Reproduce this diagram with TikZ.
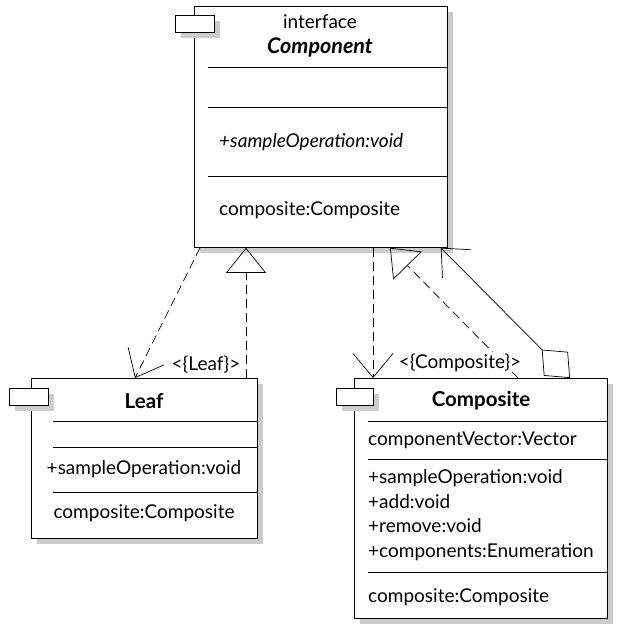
\documentclass[tikz,border=0pt]{standalone}
\usepackage{fontspec}
\setmainfont{Lato}
\usetikzlibrary{arrows.meta}
\usetikzlibrary{shadows}
\usetikzlibrary{calc}
\usetikzlibrary{positioning}

\begin{document}
\begin{tikzpicture}[x=1pt,y=-1pt,
    classbox/.style={draw, line width=0.8pt, fill=white, anchor=north west, inner sep=0pt,
      drop shadow={shadow xshift=6pt, shadow yshift=-6pt, fill=black!20, opacity=1}},
    tabbox/.style={classbox, minimum width=39pt, minimum height=17pt},
    sep/.style={line width=0.8pt},
    lbl/.style={inner sep=0pt, anchor=base, font=\fontsize{19}{22}\selectfont},
    mem/.style={lbl, anchor=base west},
    cname/.style={lbl, font=\fontsize{20.5}{24}\selectfont\bfseries},
    dep/.style={dash pattern=on 9pt off 5pt, line width=0.7pt, -{Straight Barb[length=24pt,width=40pt]}},
    real/.style={dash pattern=on 9pt off 5pt, line width=0.7pt, -{Triangle[open,length=25pt,width=40pt]}},
    agg/.style={line width=0.7pt, {Diamond[open,length=40pt,width=34pt]}-{Straight Barb[length=22pt,width=40pt]}}]
  \useasboundingbox (0,0) rectangle (621,635);

  % classes
  \node [classbox, minimum width=253pt, minimum height=241pt] (comp) at (194,6) {};
  \node [tabbox] (comptab) at (175,15) {};
  \node [classbox, minimum width=226pt, minimum height=160pt] (leaf) at (31,378) {};
  \node [tabbox] (leaftab) at (9,388) {};
  \node [classbox, minimum width=253pt, minimum height=240pt] (compo) at (354,378) {};
  \node [tabbox, minimum width=37pt] (compotab) at (336,388) {};

  % compartments
  \foreach \y in {67,107,176} \draw [sep] (208,\y) -- (comp.east |- 0,\y);
  \foreach \y in {421,447,492} \draw [sep] (53,\y) -- (leaf.east |- 0,\y);
  \foreach \y in {421,459,572} \draw [sep] (368,\y) -- (compo.east |- 0,\y);

  \node [lbl] (compst) at (320,28) {interface};
  \node [cname, font=\fontsize{21.5}{24}\selectfont\bfseries\itshape] (compname) at (320,53) {Component};
  \node [mem, font=\fontsize{19}{22}\selectfont\itshape] (compop) at (219,147) {+sampleOperation:void};
  \node [mem] (compattr) at (219,215) {composite:Composite};

  \node [cname] (leafname) at (144,408) {Leaf};
  \node [lbl] (leafop) at (144,474) {+sampleOperation:void};
  \node [lbl] (leafattr) at (144,518) {composite:Composite};

  \node [cname] (componame) at (481,406) {Composite};
  \node [mem] (compovec) at (368,445) {componentVector:Vector};
  \node [mem] (compoop1) at (368,483) {+sampleOperation:void};
  \node [mem] (compoop2) at (368,508) {+add:void};
  \node [mem] (compoop3) at (368,532) {+remove:void};
  \node [mem] (compoop4) at (368,557) {+components:Enumeration};
  \node [mem] (compoattr) at (368,602) {composite:Composite};

  % relations
  \draw [dep] ($(comp.south west)+(6,0)$) -- ($(leaf.north west)+(104,0)$);
  \draw [real] ($(leaf.north west)+(215,0)$) -- ($(comp.south west)+(52,0)$);
  \draw [dep] ($(comp.south west)+(179,0)$) -- ($(compo.north west)+(19,0)$);
  \draw [real] ($(compo.north west)+(164,0)$) -- ($(comp.south west)+(196,0)$);
  \draw [agg] ($(compo.north west)+(216,0)$) -- ($(comp.south east)+(-7,0)$);

  \node [lbl, fill=white, inner sep=1pt] (leafbind) at (206,370) {<\{Leaf\}>};
  \node [lbl, fill=white, inner sep=1pt] (compobind) at (460,368) {<\{Composite\}>};
\end{tikzpicture}
\end{document}
